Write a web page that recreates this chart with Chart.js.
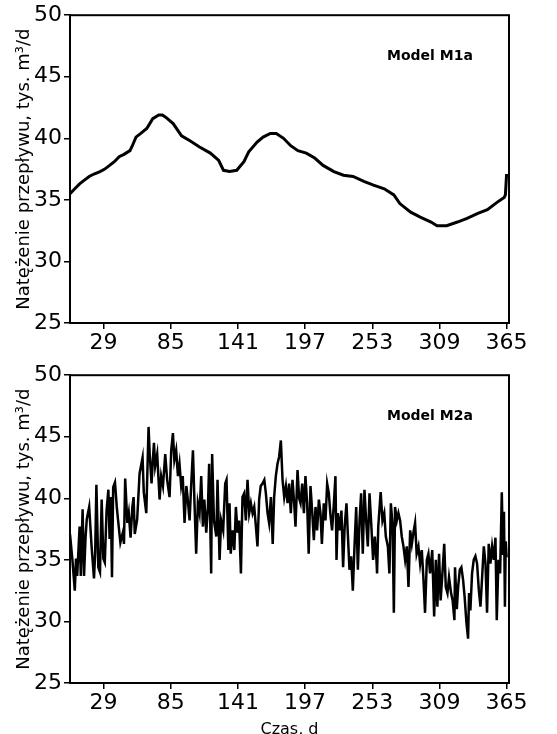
<!DOCTYPE html>
<html>
<head>
<meta charset="utf-8">
<script src="https://cdn.jsdelivr.net/npm/chart.js@4.4.1/dist/chart.umd.min.js"></script>
<style>
  html, body { margin: 0; padding: 0; background: #fff; overflow: hidden; }
  .panel { position: absolute; left: 0; width: 557px; }
  #wrapTop { top: 0; height: 360px; }
  #wrapBottom { top: 360px; height: 390px; }
</style>
</head>
<body>
<div id="wrapTop" class="panel"><canvas id="chartM1a" width="557" height="360"></canvas></div>
<div id="wrapBottom" class="panel"><canvas id="chartM2a" width="557" height="390"></canvas></div>
<script>
Chart.defaults.color = '#000';
Chart.defaults.font.family = "'DejaVu Sans', sans-serif";

const TICKS_X = [29, 85, 141, 197, 253, 309, 365];
const Y_LABEL = 'Natężenie przepływu, tys. m³/d';

// Model M1a - przebieg wygładzony
const dniM1a = [1, 5, 9, 13, 17, 21, 26, 30, 34, 38, 42, 46, 51, 53, 56, 60, 65, 70, 75, 78, 81, 87, 94, 101, 109, 118, 125, 129, 134, 140, 146, 150, 157, 162, 168, 173, 179, 185, 191, 198, 205, 212, 221, 229, 237, 246, 254, 263, 271, 276, 285, 293, 302, 307, 315, 324, 332, 341, 349, 357, 363, 364, 365];
const przeplywM1a = [35.5, 35.9, 36.3, 36.6, 36.9, 37.1, 37.3, 37.5, 37.8, 38.1, 38.5, 38.7, 39.0, 39.4, 40.1, 40.4, 40.8, 41.6, 41.9, 41.9, 41.7, 41.2, 40.2, 39.8, 39.3, 38.8, 38.2, 37.4, 37.3, 37.4, 38.1, 38.9, 39.7, 40.1, 40.4, 40.4, 40.0, 39.4, 39.0, 38.8, 38.4, 37.8, 37.3, 37.0, 36.9, 36.5, 36.2, 35.9, 35.4, 34.7, 34.0, 33.6, 33.2, 32.9, 32.9, 33.2, 33.5, 33.9, 34.2, 34.8, 35.2, 35.4, 37.1];

// Model M2a - przebieg z fluktuacjami dobowymi
const dniM2a = [1, 3, 5, 6, 7, 9, 10, 11.5, 12.7, 14, 15, 17, 19, 21, 22, 23, 24.6, 26, 27.4, 28.8, 30, 31.5, 33, 34, 35, 36, 37, 38.5, 40, 41, 43, 45, 46, 47, 48.8, 50, 51.5, 53, 54, 55, 57, 59, 61.5,
  62.5, 64.6, 66.5, 67.5, 69, 70, 71, 72, 73.7, 75.7, 77, 78.5, 80.4, 82, 84, 85.4, 86.8, 88, 89.5, 91, 92.3, 93.7, 95, 96.5, 98, 99, 100.7, 102, 103.5, 104.8, 106.2, 107.6, 109, 110.4, 111.8, 113, 114.6, 116, 117, 118.7, 119.5, 121, 123, 124, 125.7, 127,
  128.7, 130.4, 131.5, 133, 134, 135, 136.5, 138, 139.3, 140.7, 142, 143.5, 144.8, 146.2, 147.6, 149, 150.4, 151.8, 153.2, 154.6, 156, 157.3, 158.7, 160, 161.5, 163, 164.3, 165.7, 167, 168.5, 170, 171.2, 172.6, 174, 175.4, 176.8, 178.2, 179.6, 181, 182.4, 183.7, 185.1, 186.5, 187.9, 189, 190.7,
  192, 193.2, 194.6, 196, 197.3, 198.7, 200, 201.5, 203, 204.3, 205.7, 207, 208.5, 209.8, 211, 212.6, 214, 215.4, 216.8, 218, 219.5, 221, 222.3, 223.2, 224.3, 226, 227.3, 228.7, 230, 231.5, 232.6, 234, 235.4, 236.8, 238.2, 239.6, 241, 242.4, 243.7, 245.1, 246.5, 247.9, 249.3, 250.7, 252, 253.7, 255.1, 256.5,
  257, 258, 260, 261.5, 263, 264.3, 266, 267.3, 268.5, 270, 271, 272, 273.5, 274.8, 276.2, 277.6, 279, 280.4, 281.8, 283.2, 284.6, 286, 287.3, 288.7, 290, 291.5, 292.9, 294.3, 295.7, 297, 298.5, 299.8, 301.2, 303, 304.6, 306, 307.3, 308.7, 310, 311.5, 313, 314.3, 315.7, 317, 318.7, 320, 321.5,
  322, 323.5, 324.6, 326, 327.3, 328.7, 330, 331.5, 332.9, 333.7, 334.8, 336.2, 337.6, 339, 340.4, 341.8, 343.2, 344.6, 346, 347.4, 348.7, 350.1, 351.5, 352.9, 354.3, 355.7, 356.8, 358.2, 359.6, 361, 362, 362.8, 363.6, 364.3, 365];
const przeplywM2a = [37.1, 35.0, 32.5, 35.1, 33.7, 37.7, 33.7, 39.1, 33.7, 36.9, 38.3, 39.3, 36.1, 33.5, 35.6, 41.1, 34.4, 34.0, 39.9, 35.1, 34.8, 39.0, 40.7, 36.7, 40.1, 33.6, 40.9, 41.3, 39.3, 38.3, 36.4, 37.2, 36.3, 41.6, 38.0, 38.8, 36.8, 39.3, 40.1, 37.1, 38.3, 42.0, 43.3,
  40.5, 38.8, 45.8, 43.5, 41.2, 43.0, 44.5, 42.6, 43.6, 39.9, 41.8, 41.0, 43.6, 41.5, 40.1, 43.9, 45.3, 43.1, 43.9, 41.8, 42.8, 41.0, 41.8, 38.0, 41.0, 40.1, 38.2, 41.0, 43.9, 39.6, 35.5, 39.6, 38.8, 41.8, 37.7, 39.9, 37.2, 39.3, 42.8, 33.9, 43.6, 38.2, 36.9, 41.5, 35.0, 38.2,
  37.4, 41.2, 41.5, 35.8, 39.6, 35.5, 37.4, 35.8, 39.3, 37.2, 38.2, 33.9, 40.1, 40.4, 38.2, 41.5, 38.8, 39.6, 38.8, 39.3, 37.7, 36.1, 39.9, 41.0, 41.2, 41.5, 40.4, 38.8, 38.0, 40.1, 36.3, 40.1, 41.8, 42.8, 43.4, 44.7, 41.5, 40.1, 41.0, 39.6, 41.2, 38.8, 41.5, 39.6, 37.7, 42.3,
  40.0, 39.6, 41.2, 38.8, 41.8, 39.6, 35.5, 41.0, 38.8, 36.6, 39.3, 37.4, 39.9, 38.8, 36.3, 39.6, 38.2, 41.2, 40.4, 38.8, 37.4, 39.6, 41.8, 35.0, 38.8, 37.4, 39.0, 34.4, 37.7, 39.6, 37.2, 34.2, 35.3, 32.5, 36.1, 39.3, 34.2, 38.2, 40.4, 35.5, 40.7, 38.2, 36.1, 40.4, 38.2, 35.0, 36.9, 35.0,
  33.9, 37.7, 40.5, 38.2, 38.8, 36.9, 36.1, 33.9, 39.6, 37.7, 30.7, 39.3, 38.2, 38.8, 38.2, 36.9, 36.1, 35.0, 36.1, 32.8, 37.4, 36.3, 37.2, 38.0, 35.5, 36.1, 34.7, 35.8, 33.4, 30.7, 35.0, 35.5, 33.9, 35.8, 30.4, 35.0, 31.2, 35.5, 31.7, 33.9, 36.3, 32.8, 32.3, 33.6, 32.3, 31.7, 30.1,
  34.4, 31.0, 32.8, 34.2, 34.4, 33.4, 32.0, 29.9, 28.6, 32.3, 30.9, 33.9, 35.0, 35.3, 34.7, 32.6, 31.2, 33.6, 36.1, 34.7, 30.7, 36.3, 34.7, 36.1, 35.0, 36.8, 30.1, 35.0, 33.9, 40.5, 35.5, 38.9, 31.2, 36.5, 35.2];

// ramka wykresu i opis modelu w prawym górnym rogu
const ramka = {
  id: 'ramka',
  afterDraw(chart, args, opts) {
    const { ctx, chartArea: a } = chart;
    ctx.save();
    ctx.strokeStyle = '#000';
    ctx.lineWidth = 2;
    ctx.strokeRect(a.left, a.top, a.right - a.left, a.bottom - a.top);
    ctx.fillStyle = '#000';
    ctx.font = "bold 14px 'DejaVu Sans'";
    ctx.textBaseline = 'middle';
    ctx.fillText(opts.tekst, a.right - 122, a.top + 41);
    ctx.restore();
  }
};

function rysujPanel(canvasId, dni, wartosci, opis, grubosc, wysokoscOsiX, tytulX) {
  const punkty = dni.map((d, i) => ({ x: d, y: wartosci[i] }));
  return new Chart(document.getElementById(canvasId), {
    type: 'line',
    data: {
      datasets: [{ data: punkty, borderColor: '#000', borderWidth: grubosc, pointRadius: 0, tension: 0, fill: false }]
    },
    options: {
      responsive: false, animation: false,
      layout: { padding: { top: 15, right: 48, bottom: 0, left: 0 } },
      scales: {
        x: {
          type: 'linear', min: 1, max: 367,
          afterBuildTicks: axis => { axis.ticks = TICKS_X.map(v => ({ value: v })); },
          afterFit: axis => { axis.height = wysokoscOsiX; },
          grid: { drawOnChartArea: false, tickLength: 6, color: '#000', lineWidth: 1.5 },
          border: { color: '#000', width: 2 },
          ticks: { font: { size: 22 }, padding: 1, maxRotation: 0, autoSkip: false },
          title: { display: !!tytulX, text: tytulX, font: { size: 16 }, padding: { top: 0, bottom: 11 } }
        },
        y: {
          min: 25, max: 50,
          afterFit: axis => { axis.width = 70; },
          grid: { drawOnChartArea: false, tickLength: 6, color: '#000', lineWidth: 1.5 },
          border: { color: '#000', width: 2 },
          ticks: { stepSize: 5, font: { size: 22 }, padding: 2 },
          title: { display: true, text: Y_LABEL, font: { size: 18 }, padding: { top: 14, bottom: 0 } }
        }
      },
      plugins: { legend: { display: false }, tooltip: { enabled: false }, ramka: { tekst: opis } }
    },
    plugins: [ramka]
  });
}

rysujPanel('chartM1a', dniM1a, przeplywM1a, 'Model M1a', 3, 37, '');
rysujPanel('chartM2a', dniM2a, przeplywM2a, 'Model M2a', 2.5, 67, 'Czas, d');
</script>
</body>
</html>
